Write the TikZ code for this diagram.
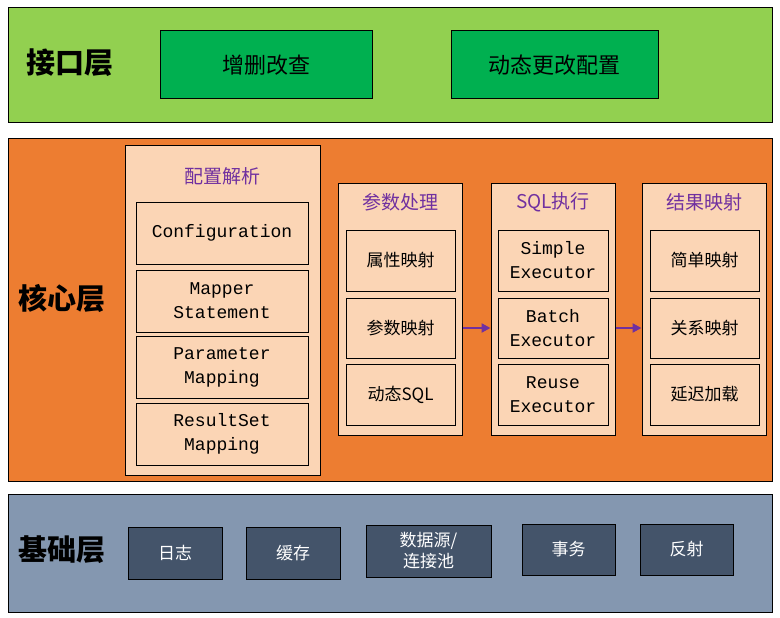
\documentclass[tikz,border=0pt]{standalone}
\usepackage{fontspec}
\setmainfont{Liberation Serif}
\setmonofont{Liberation Mono}
\newfontfamily\cjk{Noto Sans CJK SC}
\usetikzlibrary{arrows.meta}
\definecolor{ifgreen}{HTML}{92D050}
\definecolor{boxgreen}{HTML}{00B050}
\definecolor{coreorange}{HTML}{ED7D31}
\definecolor{peach}{HTML}{FBD5B5}
\definecolor{basegrey}{HTML}{8497B0}
\definecolor{slate}{HTML}{44546A}
\definecolor{titlepurple}{HTML}{7030A0}
\tikzset{
  layer/.style={draw=black, line width=1pt},
  cell/.style={draw=black, line width=1pt, fill=peach, inner sep=0pt, align=center},
  title/.style={text=titlepurple, font=\cjk\fontsize{19}{21}\selectfont},
  tt/.style={font=\ttfamily\fontsize{18}{24}\selectfont},
  zh/.style={font=\cjk\fontsize{17}{19}\selectfont},
  base/.style={draw=black, line width=1pt, fill=slate, text=white, align=center, font=\cjk\fontsize{17}{21}\selectfont},
  big/.style={font=\cjk\bfseries\fontsize{29}{32}\selectfont},
  flow/.style={-{Triangle[length=9pt,width=9pt]}, draw=titlepurple, line width=2.5pt}
}
\newcommand{\cellbox}[6]{\node[cell,#6, minimum width=#3pt-#1pt, minimum height=#4pt-#2pt] (#5) at ({(#1+#3)/2},{(#2+#4)/2})}
\begin{document}
\begin{tikzpicture}[x=1pt,y=-1pt]
\useasboundingbox (0,0) rectangle (780,618);
% interface layer
\draw[layer, fill=ifgreen] (8,8) rectangle (772,123);
\node[big] (ifl) at (70,63) {接口层};
\node[layer, fill=boxgreen, minimum width=212pt, minimum height=68pt, font=\cjk\fontsize{22}{24}\selectfont] (crud) at (266,65) {增删改查};
\node[layer, fill=boxgreen, minimum width=207pt, minimum height=68pt, font=\cjk\fontsize{22}{24}\selectfont] (dyn) at (554.5,65) {动态更改配置};
% core layer
\draw[layer, fill=coreorange] (8,138) rectangle (772,481);
\node[big] (core) at (62,298) {核心层};
\cellbox{125}{145}{320}{475}{cfg}{}{};
\node[title] (cfgt) at (222,176) {配置解析};
\cellbox{136}{202}{308}{264}{c1}{tt}{Configuration};
\cellbox{136}{270}{308}{332}{c2}{tt}{Mapper\\Statement};
\cellbox{136}{336}{308}{398}{c3}{tt}{Parameter\\Mapping};
\cellbox{136}{403}{308}{465}{c4}{tt}{ResultSet\\Mapping};
\cellbox{338}{183}{462}{435}{par}{}{};
\node[title] (part) at (400,202) {参数处理};
\cellbox{346}{230}{455}{291}{p1}{zh}{属性映射};
\cellbox{346}{298}{455}{358}{p2}{zh}{参数映射};
\cellbox{346}{364}{455}{425}{p3}{zh}{动态SQL};
\cellbox{491}{183}{615}{435}{sql}{}{};
\node[title] (sqlt) at (553,202) {SQL执行};
\cellbox{498}{230}{608}{291}{s1}{tt}{Simple\\Executor};
\cellbox{498}{298}{608}{358}{s2}{tt}{Batch\\Executor};
\cellbox{498}{364}{608}{425}{s3}{tt}{Reuse\\Executor};
\cellbox{642}{183}{766}{435}{res}{}{};
\node[title] (rest) at (704,202) {结果映射};
\cellbox{650}{230}{759}{291}{r1}{zh}{简单映射};
\cellbox{650}{298}{759}{358}{r2}{zh}{关系映射};
\cellbox{650}{364}{759}{425}{r3}{zh}{延迟加载};
\draw[flow] (par.east |- p2) -- (sql.west |- p2);
\draw[flow] (sql.east |- s2) -- (res.west |- s2);
% base layer
\draw[layer, fill=basegrey] (8,494) rectangle (772,612);
\node[big] (bl) at (62,550) {基础层};
\node[base, minimum width=94pt, minimum height=52pt] (log) at (175,553) {日志};
\node[base, minimum width=94pt, minimum height=52pt] (cache) at (293,553) {缓存};
\node[base, minimum width=125pt, minimum height=52pt, inner sep=0pt] (ds) at (428.5,551) {数据源/\\连接池};
\node[base, minimum width=93pt, minimum height=51pt] (tx) at (568.5,549.5) {事务};
\node[base, minimum width=93pt, minimum height=51pt] (refl) at (686.5,549.5) {反射};
\end{tikzpicture}
\end{document}
